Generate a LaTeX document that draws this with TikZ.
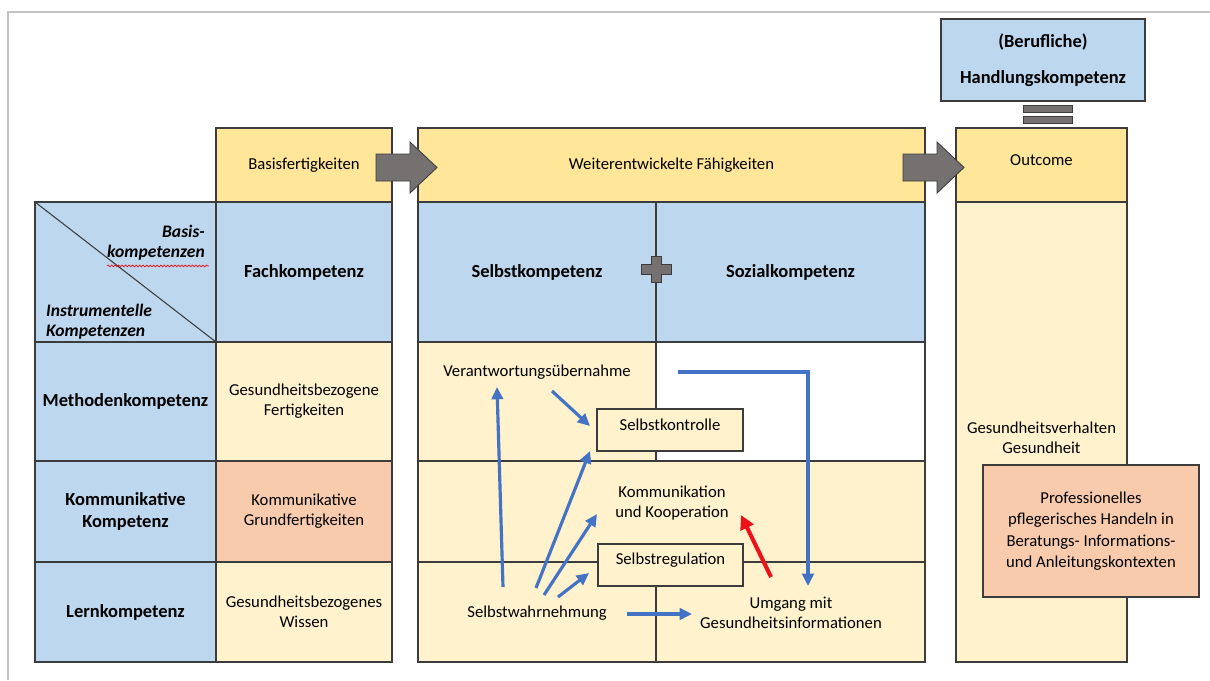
\documentclass[tikz,border=0pt]{standalone}
\usepackage{fontspec}
\setmainfont{Carlito}
\usetikzlibrary{arrows.meta,calc,decorations.pathmorphing}
\definecolor{cell_blue}{RGB}{189,215,238}
\definecolor{head_yellow}{RGB}{255,230,153}
\definecolor{light_yellow}{RGB}{255,242,204}
\definecolor{salmon}{RGB}{248,203,173}
\definecolor{arrow_grey}{RGB}{118,113,113}
\definecolor{line_blue}{RGB}{68,114,196}
\definecolor{line_red}{RGB}{238,17,23}
\definecolor{frame_grey}{RGB}{196,196,196}
\definecolor{edge_grey}{RGB}{60,60,60}
\newcommand\txtsize{\fontsize{9.5}{11.4}\selectfont}
\newcommand\boldsize{\fontsize{10.5}{12.2}\selectfont\bfseries}
\newcommand\slantsize{\fontsize{10}{11.6}\selectfont\bfseries\itshape}

\tikzset{
	cell/.style={draw=edge_grey,line width=0.6pt,inner sep=0pt,outer sep=0pt,align=center,font=\txtsize},
	sz/.style 2 args={minimum width=#1*0.02cm,minimum height=#2*0.02cm},
	txt/.style={align=center,font=\txtsize},
	bold/.style={font=\boldsize},
	bluearrow/.style={draw=line_blue,line width=1.8pt,-{Triangle[length=7pt,width=6.5pt]}},
	redarrow/.style={draw=line_red,line width=2.3pt,-{Triangle[length=8pt,width=8pt]}}
}

\begin{document}
\begin{tikzpicture}[x=0.02cm,y=-0.02cm]
	\useasboundingbox (0,0) rectangle (1210,680);
	\draw[frame_grey,line width=1pt] (1210,12) -- (8,12) -- (8,680);

	\node[cell,sz={181}{140},fill=cell_blue] (hdr) at (125.5,272) {};
	\node[cell,bold,sz={181}{119},fill=cell_blue] (meth) at (125.5,401.5) {Methodenkompetenz};
	\node[cell,bold,sz={181}{101},fill=cell_blue] (kommk) at (125.5,511.5) {Kommunikative\\Kompetenz};
	\node[cell,bold,sz={181}{100},fill=cell_blue] (lern) at (125.5,612) {Lernkompetenz};

	\node[cell,sz={176}{74},fill=head_yellow] (basis) at (304,165) {Basisfertigkeiten};
	\node[cell,bold,sz={176}{140},fill=cell_blue] (fach) at (304,272) {Fachkompetenz};
	\node[cell,sz={176}{119},fill=light_yellow] (gfert) at (304,401.5) {Gesundheitsbezogene\\Fertigkeiten};
	\node[cell,sz={176}{101},fill=salmon] (kgrund) at (304,511.5) {Kommunikative\\Grundfertigkeiten};
	\node[cell,sz={176}{100},fill=light_yellow] (gwiss) at (304,612) {Gesundheitsbezogenes\\Wissen};

	\node[cell,sz={507}{74},fill=head_yellow] (weiter) at (671.5,165) {Weiterentwickelte Fähigkeiten};
	\node[cell,bold,sz={238}{140},fill=cell_blue] (selbst) at (537,272) {Selbstkompetenz};
	\node[cell,bold,sz={269}{140},fill=cell_blue] (sozial) at (790.5,272) {Sozialkompetenz};
	\node[cell,sz={238}{119},fill=light_yellow] (mol) at (537,401.5) {};
	\node[cell,sz={269}{119},fill=white] (mor) at (790.5,401.5) {};
	\node[cell,sz={507}{101},fill=light_yellow] (mmid) at (671.5,511.5) {};
	\node[cell,sz={238}{100},fill=light_yellow] (mul) at (537,612) {};
	\node[cell,sz={269}{100},fill=light_yellow] (mur) at (790.5,612) {};

	\node[cell,sz={171}{74},fill=head_yellow] (outc) at (1041.5,165) {};
	\node[txt] (outt) at (1041.5,160) {Outcome};
	\node[cell,sz={171}{460},fill=light_yellow] (outb) at (1041.5,432) {};
	\node[txt] (gv) at (1041.5,438) {Gesundheitsverhalten\\Gesundheit};
	\node[cell,sz={216}{132},fill=salmon,font=\fontsize{9.5}{12.2}\selectfont] (prof) at (1091,531) {Professionelles\\pflegerisches Handeln in\\Beratungs- Informations-\\und Anleitungskontexten};
	\node[cell,bold,sz={204}{82},fill=cell_blue] (hk) at (1043,60) {(Berufliche)\\[8pt]Handlungskompetenz};

	\foreach \ya in {105,116}
		\draw[fill=arrow_grey,draw=edge_grey,line width=0.5pt] (1023,\ya) rectangle (1072,{\ya+7});

	\draw[edge_grey,line width=0.6pt] (hdr.north west) -- (hdr.south east);
	\node[txt,anchor=east,font=\slantsize,align=right] (bk) at (211,243) {Basis-\\kompetenzen};
	\draw[line_red,line width=0.4pt,decorate,decoration={snake,amplitude=0.5pt,segment length=2pt}] ($(bk.south west)+(6,-1)$) -- ($(bk.south east)+(-2,-1)$);
	\node[txt,anchor=west,font=\slantsize,align=left] (ik) at (40,322) {Instrumentelle\\Kompetenzen};

	\foreach \xa in {376,903}
		\fill[arrow_grey,draw=edge_grey,line width=0.5pt] (\xa,154) -- ++(34,0) -- ++(0,-12) -- ++(27,25.5) -- ++(-27,25.5) -- ++(0,-12) -- ++(-34,0) -- cycle;
	\fill[arrow_grey,draw=edge_grey,line width=0.5pt] (651,256) -- (661,256) -- (661,264) -- (671,264) -- (671,274) -- (661,274) -- (661,282) -- (651,282) -- (651,274) -- (641,274) -- (641,264) -- (651,264) -- cycle;

	\node[txt] (vu) at (537,372) {Verantwortungsübernahme};
	\node[cell,sz={146}{42},fill=light_yellow] (sk) at (670,430) {};
	\node[txt] (skt) at (670,425) {Selbstkontrolle};
	\node[txt] (kk) at (672,503) {Kommunikation\\und Kooperation};
	\node[cell,sz={145}{42},fill=light_yellow] (sr) at (670.5,565) {};
	\node[txt] (srt) at (670.5,560) {Selbstregulation};
	\node[txt] (swn) at (537,613) {Selbstwahrnehmung};
	\node[txt] (ug) at (791,613) {Umgang mit\\Gesundheitsinformationen};

	\draw[bluearrow] ($(swn)+(-34,-26)$) -- ($(vu)+(-40,15)$);
	\draw[bluearrow] ($(vu)+(15,19)$) -- ($(sk.west)+(-7,-4)$);
	\draw[bluearrow] ($(swn)+(-1,-25)$) -- ($(sk.south west)+(-7,0)$);
	\draw[bluearrow] ($(swn)+(7,-18)$) -- ($(kk)+(-75,11)$);
	\draw[bluearrow] ($(swn)+(21,-16)$) -- ($(sr.west)+(-9,8)$);
	\draw[bluearrow] ($(swn)+(90,1)$) -- ($(ug)+(-99,1)$);
	\draw[bluearrow] ($(vu)+(141,0)$) -| ($(ug)+(17,-27)$);
	\draw[redarrow] ($(ug)+(-20,-36)$) -- ($(kk)+(69,12)$);
\end{tikzpicture}
\end{document}
